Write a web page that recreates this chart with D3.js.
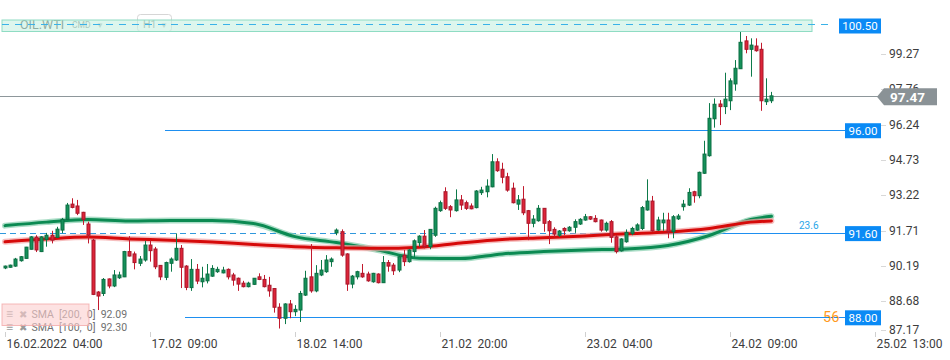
<!DOCTYPE html>
<html><head><meta charset="utf-8">
<script src="https://cdn.jsdelivr.net/npm/d3@7"></script>
<style>
body{margin:0;background:#fff;}
svg{display:block;font-family:Roboto,"Noto Sans",sans-serif;}
text{white-space:pre;}
</style>
</head><body>
<svg id="c" width="950" height="360"></svg>
<script>
// ---- DATA ----
const opens=[90.11,90.14,90.19,90.42,90.52,90.91,91.43,90.81,91.33,91.51,
91.42,91.73,92.19,92.84,92.76,92.49,91.99,91.30,89.08,89.02,
89.64,89.34,89.69,89.73,90.81,90.71,90.31,90.45,91.09,90.92,
90.22,89.71,90.31,90.45,90.95,90.19,89.27,90.05,89.52,89.56,
89.76,89.95,89.90,90.05,89.81,89.67,89.46,89.31,89.41,89.73,
89.62,89.37,89.23,88.43,87.96,88.57,88.24,88.31,88.95,89.73,
89.13,89.81,89.95,90.38,91.61,91.66,90.71,89.42,89.73,89.88,
89.85,89.52,89.85,89.48,90.34,90.23,90.02,90.66,90.38,90.81,
91.19,91.47,91.02,91.51,92.56,93.37,92.73,92.56,93.02,92.90,
92.76,92.69,93.33,93.37,93.58,94.65,94.33,94.01,93.52,92.84,
93.05,92.56,92.02,92.13,92.66,92.09,91.76,91.51,91.80,91.70,
91.85,91.99,92.16,92.30,92.23,92.16,91.73,92.09,91.44,90.84,
91.23,91.59,91.73,91.80,92.59,92.97,91.73,92.04,92.16,91.66,
92.21,92.73,92.80,93.37,93.20,94.16,94.91,96.49,97.12,97.01,
97.26,97.98,98.63,99.82,99.46,99.60,99.46,97.22,97.26];
const highs=[90.21,90.25,90.54,90.62,91.01,91.47,91.51,91.47,91.61,91.70,
91.87,92.25,92.89,93.09,93.02,92.51,92.09,91.35,89.12,89.68,
89.66,90.02,89.95,90.84,91.47,90.81,90.62,91.27,91.30,91.01,
90.23,90.38,90.56,91.59,91.09,90.23,90.49,90.28,90.16,90.28,
90.23,90.16,90.16,90.09,89.90,89.70,89.56,89.52,89.68,89.88,
89.81,89.73,89.25,88.60,88.60,88.74,88.52,89.13,89.99,91.13,
90.23,90.45,90.66,90.56,91.80,91.76,90.74,89.81,89.99,90.28,
89.95,89.90,89.88,90.62,90.45,90.32,90.66,90.88,90.91,91.33,
91.51,91.73,91.77,92.73,92.99,93.56,92.80,93.47,93.23,92.99,
92.87,93.44,93.58,93.90,94.98,94.80,94.61,94.18,93.76,93.23,
93.61,92.59,92.37,92.80,92.67,92.16,91.85,91.73,91.85,91.90,
92.19,92.24,92.42,92.33,92.37,92.18,92.09,92.16,91.51,91.38,
91.76,91.87,92.02,92.76,93.90,93.19,92.30,92.47,92.47,92.37,
92.42,93.02,93.52,93.41,94.23,95.55,97.16,97.36,97.29,98.46,
98.22,99.00,100.20,100.03,99.93,99.93,99.74,98.22,97.64];
const lows=[90.06,90.12,90.16,90.38,90.51,90.90,90.79,90.79,91.02,91.16,
91.39,91.60,92.16,92.66,92.37,91.95,91.16,88.95,88.31,88.91,
89.24,89.29,89.64,89.72,90.60,90.05,90.19,90.38,90.38,90.06,
89.59,89.59,89.95,90.41,89.25,89.16,89.13,89.42,89.28,89.45,
89.73,89.90,89.88,89.62,89.35,89.13,89.28,89.28,89.38,89.59,
89.28,88.88,88.20,87.52,87.71,87.96,88.05,87.80,88.91,89.05,
89.07,89.76,89.90,90.16,91.51,90.59,89.13,89.24,89.62,89.69,
89.52,89.48,89.45,89.47,89.95,89.81,89.93,90.19,90.34,90.56,
91.02,90.95,90.91,91.44,92.51,92.59,92.28,92.52,92.59,92.59,
92.62,92.66,93.23,93.13,93.56,94.22,93.73,93.37,92.87,92.59,
92.37,91.30,91.85,92.09,91.66,91.13,91.42,91.44,91.51,91.66,
91.61,91.95,92.13,92.16,92.06,91.66,91.66,91.19,90.73,90.81,
91.19,91.51,91.70,91.73,92.56,91.66,91.70,91.70,91.38,91.38,
92.16,92.56,92.76,92.90,93.09,94.13,94.87,96.11,96.22,96.69,
96.86,97.69,98.62,99.29,98.29,99.36,96.83,97.08,97.16];
const closes=[90.19,90.23,90.49,90.59,91.00,91.44,90.88,91.44,91.51,91.30,
91.77,92.19,92.80,92.70,92.45,92.19,91.51,88.98,88.91,89.62,
89.34,89.81,89.81,90.81,90.62,90.34,90.49,91.09,90.85,90.16,
89.73,90.34,90.49,90.95,90.14,89.28,90.05,89.55,89.67,89.85,
90.09,90.05,90.02,89.73,89.59,89.42,89.31,89.46,89.67,89.62,
89.31,89.13,88.43,87.96,88.57,88.24,88.34,89.02,89.67,89.13,
89.88,90.02,90.45,90.49,91.73,90.66,89.42,89.76,89.95,89.73,
89.56,89.88,89.48,90.34,90.19,89.99,90.59,90.38,90.88,91.27,
91.47,91.02,91.76,92.66,92.90,92.66,92.59,93.02,92.80,92.66,
92.64,93.40,93.44,93.61,94.65,94.27,93.99,93.44,92.90,93.02,
92.47,92.02,92.20,92.66,92.02,91.70,91.56,91.69,91.70,91.85,
92.09,92.19,92.30,92.20,92.09,91.73,92.02,91.42,90.81,91.35,
91.63,91.80,91.95,92.69,92.97,91.70,92.16,92.16,91.66,92.30,
92.33,92.84,93.34,93.20,94.20,94.98,96.51,97.11,97.01,97.33,
98.11,98.65,99.76,99.46,99.64,99.40,97.26,97.33,97.47];

const smaIdx=[0,8,16,24,32,40,48,56,64,72,80,88,96,104,112,120,128,136,144,148];
const sma100=[91.92,92.07,92.18,92.12,92.14,92.14,92.01,91.45,91.20,90.88,90.53,90.51,90.71,90.81,90.88,90.92,91.07,91.50,92.18,92.32];
const sma200=[91.23,91.35,91.43,91.35,91.30,91.22,91.11,91.02,90.97,90.95,91.00,91.18,91.33,91.40,91.48,91.57,91.65,91.80,92.07,92.12];

const tickIdx=[0,28,56,84,112,140,168];
const tickLabels=["16.02.2022  04:00","17.02  09:00","18.02  14:00","21.02  20:00","23.02  04:00","24.02  09:00","25.02  13:00"];
const yTicks=[99.27,97.76,96.24,94.73,93.22,91.71,90.19,88.68,87.17];
const lastPrice=97.47;
const resistance=100.50;
const levelValues=[96.00,91.60,88.00];
const levelLabels=["96.00","91.60","88.00"];
const legendRows=["SMA  [200,  0]  92.09","SMA  [100,  0]  92.30"];

// ---- CHART ----
const svg=d3.select("#c");
const x=d3.scaleLinear().domain([0,168]).range([5,875]);
const y=d3.scaleLinear().domain([88,100.5]).range([317.3,25]);

// top-left symbol info (under the band)
svg.append("text").attr("x",20).attr("y",28.5).attr("font-size",12.5).attr("fill","#3f4a48").text("OIL.WTI");
svg.append("text").attr("x",72).attr("y",27.5).attr("font-size",8.5).attr("fill","#7f8f8b").text("CMD");
svg.append("text").attr("x",96).attr("y",27.5).attr("font-size",8).attr("fill","#a8b4b1").text("▼");
svg.append("rect").attr("x",137.5).attr("y",14.5).attr("width",34).attr("height",17).attr("rx",3)
  .attr("fill","none").attr("stroke","#d6d6d6");
svg.append("text").attr("x",143).attr("y",27.5).attr("font-size",10.5).attr("fill","#7f8f8b").text("H1");
svg.append("text").attr("x",160).attr("y",27.5).attr("font-size",8).attr("fill","#a8b4b1").text("▼");

// resistance band
const yr=y(resistance);
svg.append("rect").attr("x",2).attr("y",yr-5).attr("width",810).attr("height",11.5)
  .attr("fill","#c6f0e1").attr("fill-opacity",0.6).attr("stroke","#8fdcc3").attr("stroke-width",1);
svg.append("line").attr("x1",2).attr("x2",830).attr("y1",yr-0.5).attr("y2",yr-0.5)
  .attr("stroke","#3ab2e8").attr("stroke-width",1.2).attr("stroke-dasharray","7,6");

// last price line
svg.append("line").attr("x1",0).attr("x2",878).attr("y1",Math.round(y(lastPrice))+0.5).attr("y2",Math.round(y(lastPrice))+0.5)
  .attr("stroke","#8e979b").attr("stroke-width",1);

// levels
const lvStart=[165,593,185];
levelValues.forEach((v,i)=>{
  const yy=Math.round(y(v))+0.5;
  svg.append("line").attr("x1",lvStart[i]).attr("x2",845).attr("y1",yy).attr("y2",yy)
    .attr("stroke","#1e8ff0").attr("stroke-width",1);
});
// dashed fib line left part
{
  const yy=Math.round(y(levelValues[1]))+0.5;
  svg.append("line").attr("x1",0).attr("x2",593).attr("y1",yy).attr("y2",yy)
    .attr("stroke","#3098dc").attr("stroke-width",1).attr("stroke-dasharray","6,4");
  svg.append("text").attr("x",799).attr("y",yy-5).attr("font-size",10).attr("fill","#2aa6e8").text("23.6");
}
svg.append("text").attr("x",823).attr("y",Math.round(y(levelValues[2]))+5).attr("font-size",14.5).attr("fill","#ff9a1f").text("56");

// SMA lines
const line=d3.line().x(d=>x(d[0])).y(d=>y(d[1])).curve(d3.curveMonotoneX);
const g100=smaIdx.map((d,i)=>[d,sma100[i]]);
const g200=smaIdx.map((d,i)=>[d,sma200[i]]);
[[g100,"#0b8a52","#86cfae"],[g200,"#d60a0a","#f2a3a3"]].forEach(([pts,c,h])=>{
  svg.append("path").attr("d",line(pts)).attr("fill","none").attr("stroke",h).attr("stroke-width",6).attr("stroke-linecap","round").attr("opacity",0.7);
  svg.append("path").attr("d",line(pts)).attr("fill","none").attr("stroke",c).attr("stroke-width",3).attr("stroke-linecap","round");
});

// candles
const cg=svg.append("g");
opens.forEach((o,i)=>{
  const c=closes[i], up=c>=o;
  const cx=Math.round(x(i))+0.5;
  const wick=up?"#0d7a4a":"#c21a2e";
  cg.append("line").attr("x1",cx).attr("x2",cx).attr("y1",y(highs[i])).attr("y2",y(lows[i]))
    .attr("stroke",wick).attr("stroke-width",1);
  const yt=y(Math.max(o,c)), yb=y(Math.min(o,c));
  cg.append("rect").attr("x",cx-1.5).attr("y",yt).attr("width",3).attr("height",Math.max(1,yb-yt))
    .attr("fill",up?"#15915a":"#dd2539").attr("stroke",up?"#0b6e42":"#a8172a").attr("stroke-width",1);
});

// y axis
yTicks.forEach(v=>{
  const yy=Math.min(y(v),330);
  svg.append("line").attr("x1",881).attr("x2",886).attr("y1",Math.round(yy)+0.5).attr("y2",Math.round(yy)+0.5).attr("stroke","#d8d8d8");
  svg.append("text").attr("x",889).attr("y",yy+4).attr("font-size",12).attr("fill","#3d3d3d").text(v.toFixed(2));
});

// level label boxes
function box(x0,yc,w,txt){
  svg.append("rect").attr("x",x0).attr("y",yc-7.5).attr("width",w).attr("height",15).attr("fill","#0a8af5");
  svg.append("text").attr("x",x0+w/2).attr("y",yc+4).attr("text-anchor","middle").attr("font-size",11.5).attr("fill","#fff").text(txt);
}
box(839,y(resistance)+1,42,resistance.toFixed(2));
levelValues.forEach((v,i)=>box(845,y(v)+0.5,36,levelLabels[i]));

// last price tag
{
  const yc=y(lastPrice)+0.8;
  svg.append("path").attr("d",`M877,${yc} L884,${yc-8.5} L937,${yc-8.5} L937,${yc+8.5} L884,${yc+8.5} Z`).attr("fill","#8a9296");
  svg.append("text").attr("x",890).attr("y",yc+5).attr("font-size",13.5).attr("font-weight","bold").attr("fill","#fff").text(lastPrice.toFixed(2));
}

// x axis
tickIdx.forEach((t,i)=>{
  const xx=Math.round(x(t))+0.5;
  svg.append("line").attr("x1",xx).attr("x2",xx).attr("y1",332).attr("y2",337).attr("stroke","#d0d0d0");
  svg.append("text").attr("x",xx+1).attr("y",347.5).attr("font-size",12).attr("fill","#3d3d3d").text(tickLabels[i]);
});

// SMA legend
legendRows.forEach((t,i)=>{
  const yy=317.5+i*13.3;
  svg.append("text").attr("x",6).attr("y",yy).attr("font-size",12).attr("fill","#9a9a9a").text("≡");
  svg.append("text").attr("x",19).attr("y",yy).attr("font-size",10).attr("fill","#9a9a9a").text("✖");
  svg.append("text").attr("x",31.5).attr("y",yy).attr("font-size",10.5).attr("fill","#707070").text(t);
});
svg.append("rect").attr("x",2).attr("y",304).attr("width",87).attr("height",21.5)
  .attr("fill","#fbcfcf").attr("fill-opacity",0.6).attr("stroke","#f3a9a9").attr("stroke-opacity",0.8);
</script>
</body></html>
